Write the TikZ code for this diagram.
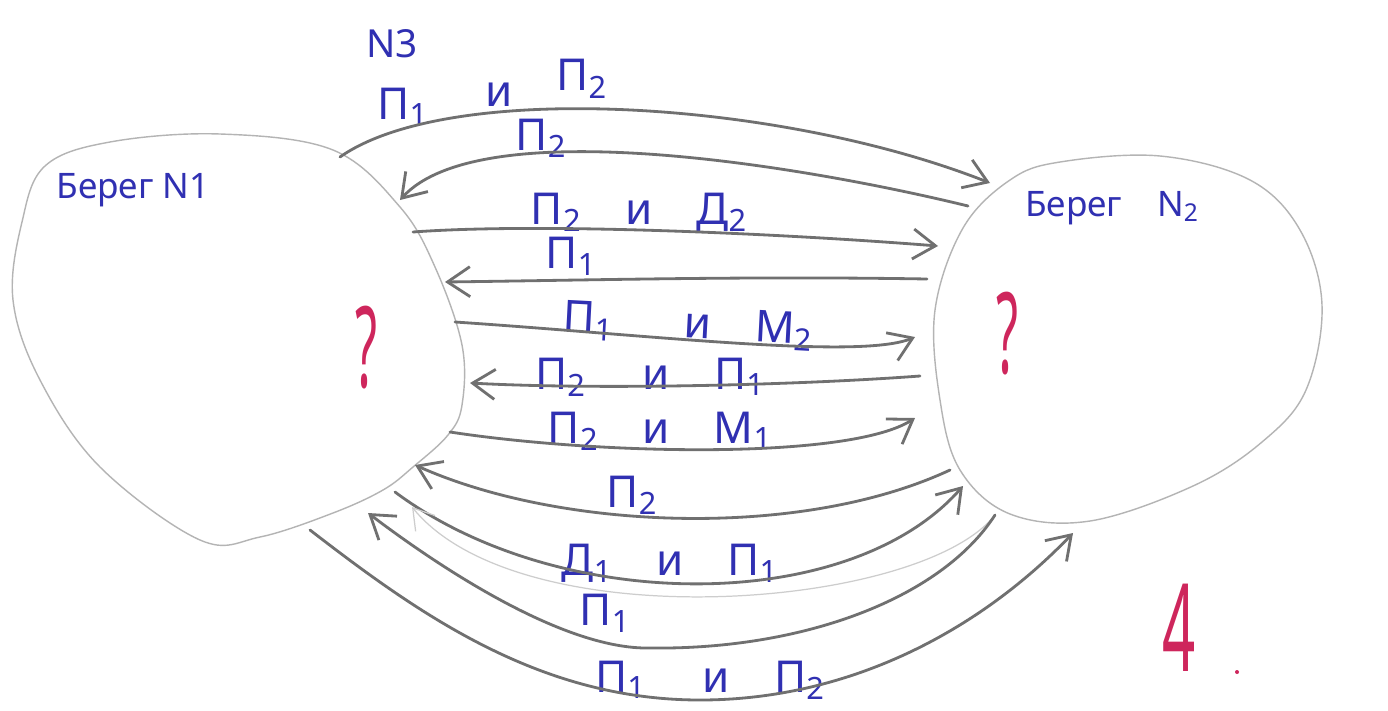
\documentclass[tikz,border=0pt]{standalone}
\usepackage{fontspec}
\setmainfont{Noto Sans}
\usetikzlibrary{arrows.meta}

\definecolor{ink}{RGB}{48,48,178}
\definecolor{redink}{RGB}{206,38,92}
\definecolor{pencil}{RGB}{112,112,112}
\definecolor{shoreline}{RGB}{180,180,180}

\newcommand{\idx}[1]{\textsubscript{#1}}
\newcommand{\gap}{\hspace{1em}}

\tikzset{
  pencil/.style={draw=pencil,line width=1.6pt,-{Straight Barb[length=4.5mm,width=6mm]}},
  faint/.style={draw=pencil!35,line width=0.7pt,-{Straight Barb[length=4mm,width=5mm]}},
  shore/.style={draw=shoreline,line width=0.8pt},
  lbl/.style={text=ink,inner sep=0pt,font=\fontsize{25}{28}\selectfont},
  qmark/.style={text=redink,inner sep=0pt,font=\fontsize{64}{64}\selectfont},
}

\begin{document}
\begin{tikzpicture}[x=0.02cm,y=-0.02cm,line cap=round,line join=round]
\useasboundingbox[fill=white] (0,0) rectangle (1388,710);

\draw[shore] plot[smooth cycle,tension=0.6] coordinates {(13,300) (22,222) (45,166) (110,142) (220,134) (333,150) (400,207) (435,267) (462,345) (462,405) (448,435) (413,467) (383,490) (333,513) (260,537) (200,540) (100,467) (40,380)};
\draw[shore] plot[smooth cycle,tension=0.6] coordinates {(963,228) (1010,180) (1060,162) (1160,156) (1250,180) (1300,230) (1322,305) (1306,390) (1262,442) (1193,486) (1090,521) (1010,514) (960,470) (940,400) (935,310)};

\node[lbl,font=\fontsize{20}{24}\selectfont] (bank1) at (133,190) {Берег N1};
\node[lbl,font=\fontsize{20}{24}\selectfont] (bank2) at (1112,208) {Берег\gap N\idx{2}};
\node[qmark] (q1) at (366,348) {\scalebox{0.45}[1]{?}};
\node[qmark] (q2) at (1007,334) {\scalebox{0.45}[1]{?}};
\node[qmark,font=\fontsize{66}{66}\selectfont] (four) at (1179,628) {\scalebox{0.5}[1.05]{4}};
\fill[redink] (1237,672) circle (2);

\node[lbl,font=\fontsize{22}{24}\selectfont] (n3) at (392,44) {N3};
\node[lbl,anchor=base west] (l1) at (377,119) {П\idx{1}\hspace{1.3em}\raisebox{7pt}{и}\gap\raisebox{16pt}{П\idx{2}}};
\node[lbl] (l2) at (541,138) {П\idx{2}};
\node[lbl] (l3) at (639,212) {П\idx{2}\gap и\gap Д\idx{2}};
\node[lbl] (l4) at (571,256) {П\idx{1}};
\node[lbl,rotate=-3] (l5) at (688,326) {П\idx{1}\hspace{1.6em}и\gap М\idx{2}};
\node[lbl] (l6) at (650,377) {П\idx{2}\hspace{1.3em}и\gap П\idx{1}};
\node[lbl] (l7) at (660,431) {П\idx{2}\gap и\gap М\idx{1}};
\node[lbl] (l8) at (632,495) {П\idx{2}};
\node[lbl] (l9) at (670,563) {Д\idx{1}\gap и\gap П\idx{1}};
\node[lbl] (l10) at (605,613) {П\idx{1}};
\node[lbl] (l11) at (710,680) {П\idx{1}\hspace{1.3em}и\gap П\idx{2}};

\coordinate (s1) at (340,157);  \coordinate (e1) at (990,183);
\coordinate (s2) at (968,206);  \coordinate (e2) at (400,200);
\coordinate (s3) at (413,232);  \coordinate (e3) at (938,246);
\coordinate (s4) at (927,279);  \coordinate (e4) at (445,282);
\coordinate (s5) at (455,322);  \coordinate (e5) at (915,337);
\coordinate (s6) at (920,376);  \coordinate (e6) at (470,383);
\coordinate (s7) at (450,432);  \coordinate (e7) at (915,418);
\coordinate (s8) at (950,470);  \coordinate (e8) at (415,465);
\coordinate (s9) at (395,492);  \coordinate (e9) at (963,486);
\coordinate (s10) at (995,515); \coordinate (e10) at (368,513); \coordinate (f10) at (412,507);
\coordinate (s11) at (310,530); \coordinate (e11) at (1073,533);

\draw[pencil] (s1) .. controls (450,80) and (780,100) .. (e1);
\draw[pencil] (s2) .. controls (800,165) and (480,112) .. (e2);
\draw[pencil] (s3) .. controls (550,222) and (800,235) .. (e3);
\draw[pencil] (s4) .. controls (750,276) and (600,280) .. (e4);
\draw[pencil] (s5) .. controls (650,335) and (860,360) .. (e5);
\draw[pencil] (s6) .. controls (800,385) and (600,390) .. (e6);
\draw[pencil] (s7) .. controls (600,455) and (850,460) .. (e7);
\draw[pencil] (s8) .. controls (800,540) and (560,530) .. (e8);
\draw[pencil] (s9) .. controls (560,615) and (850,615) .. (e9);
\draw[faint] (s10) .. controls (920,610) and (520,640) .. (f10);
\draw[pencil] (s10) .. controls (940,600) and (800,650) .. (650,648) .. controls (560,650) and (430,560) .. (e10);
\draw[pencil] (s11) .. controls (420,615) and (540,700) .. (700,700) .. controls (850,700) and (980,630) .. (e11);
\end{tikzpicture}
\end{document}
